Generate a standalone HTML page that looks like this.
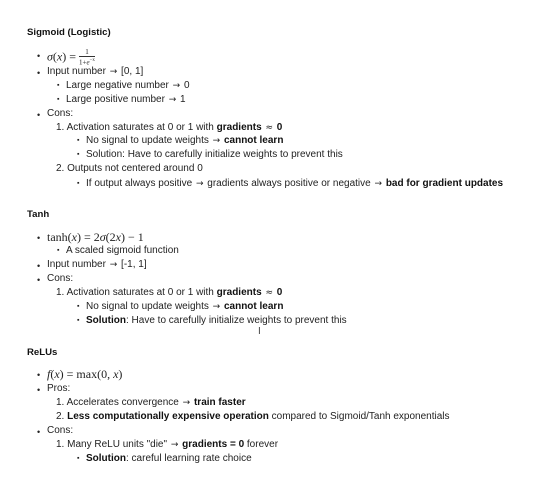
<!DOCTYPE html>
<html><head><meta charset="utf-8"><style>
body{margin:0;width:539px;height:494px;background:#fff;position:relative;overflow:hidden;font-family:"Liberation Sans",sans-serif;font-size:10px;color:#222}
.l{position:absolute;white-space:nowrap;line-height:12px}
.h{font-weight:bold;color:#111;font-size:9.6px}
b{color:#111}
.m{font-family:"Liberation Serif",serif;font-size:12px}
.d::before{content:"•";position:absolute;left:-10px;top:1px;font-size:9px;font-family:"Liberation Sans",sans-serif;line-height:12px}
.s::before{content:"▪";position:absolute;left:-9px;top:0;font-size:7px;line-height:12px}
.a{font-family:"DejaVu Sans",sans-serif;font-size:9px;margin:0 1px}
.f{display:inline-block;vertical-align:middle;text-align:center;font-size:7px;line-height:7px;font-family:"Liberation Serif",serif}
.f span{display:block}
.f .n{border-bottom:0.7px solid #333;padding:0 1px}
</style></head><body>
<div class="l h" style="left:27px;top:27px">Sigmoid (Logistic)</div>
<div class="l d m" style="left:47px;top:49px"><i>σ</i>(<i>x</i>) = <span class="f"><span class="n">1</span><span>1+<i>e</i><sup style="font-size:5px">−x</sup></span></span></div>
<div class="l d" style="left:47px;top:66px">Input number <span class="a">→</span> [0, 1]</div>
<div class="l s" style="left:66px;top:80px">Large negative number <span class="a">→</span> 0</div>
<div class="l s" style="left:66px;top:94px">Large positive number <span class="a">→</span> 1</div>
<div class="l d" style="left:47px;top:108px">Cons:</div>
<div class="l" style="left:56px;top:122px">1. Activation saturates at 0 or 1 with <b>gradients</b> <span class="a">≈</span> <b>0</b></div>
<div class="l s" style="left:86px;top:135px">No signal to update weights <span class="a">→</span> <b>cannot learn</b></div>
<div class="l s" style="left:86px;top:149px">Solution: Have to carefully initialize weights to prevent this</div>
<div class="l" style="left:56px;top:163px">2. Outputs not centered around 0</div>
<div class="l s" style="left:86px;top:178px">If output always positive <span class="a">→</span> gradients always positive or negative <span class="a">→</span> <b>bad for gradient updates</b></div>

<div class="l h" style="left:27px;top:209px">Tanh</div>
<div class="l d m" style="left:47px;top:231px">tanh(<i>x</i>) = 2<i>σ</i>(2<i>x</i>) − 1</div>
<div class="l s" style="left:66px;top:245px">A scaled sigmoid function</div>
<div class="l d" style="left:47px;top:259px">Input number <span class="a">→</span> [-1, 1]</div>
<div class="l d" style="left:47px;top:273px">Cons:</div>
<div class="l" style="left:56px;top:287px">1. Activation saturates at 0 or 1 with <b>gradients</b> <span class="a">≈</span> <b>0</b></div>
<div class="l s" style="left:86px;top:301px">No signal to update weights <span class="a">→</span> <b>cannot learn</b></div>
<div class="l s" style="left:86px;top:315px"><b>Solution</b>: Have to carefully initialize weights to prevent this</div>
<div class="l" style="left:258px;top:326px;font-size:10px;color:#444">I</div>

<div class="l h" style="left:27px;top:347px">ReLUs</div>
<div class="l d m" style="left:47px;top:368px"><i>f</i>(<i>x</i>) = max(0, <i>x</i>)</div>
<div class="l d" style="left:47px;top:383px">Pros:</div>
<div class="l" style="left:56px;top:397px">1. Accelerates convergence <span class="a">→</span> <b>train faster</b></div>
<div class="l" style="left:56px;top:411px">2. <b>Less computationally expensive operation</b> compared to Sigmoid/Tanh exponentials</div>
<div class="l d" style="left:47px;top:425px">Cons:</div>
<div class="l" style="left:56px;top:439px">1. Many ReLU units "die" <span class="a">→</span> <b>gradients = 0</b> forever</div>
<div class="l s" style="left:86px;top:453px"><b>Solution</b>: careful learning rate choice</div>
</body></html>
